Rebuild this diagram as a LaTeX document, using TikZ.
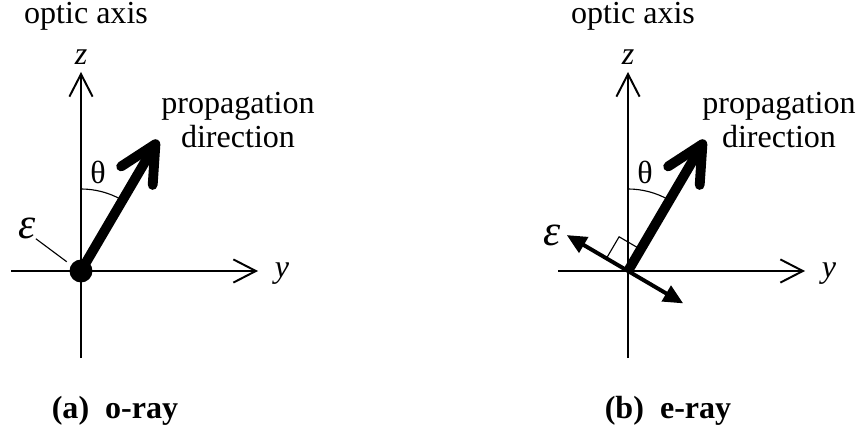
\documentclass[tikz,border=0pt]{standalone}
\usepackage{fontspec}
\setmainfont{Liberation Serif}
\usetikzlibrary{arrows.meta,positioning,calc}

\begin{document}
\begin{tikzpicture}[
  x=0.025cm, y=0.025cm,
  lbl/.style={font=\fontsize{22.8}{24.2}\selectfont, inner sep=0pt},
  field/.style={font=\fontsize{31}{31}\selectfont\itshape, inner sep=0pt},
  caption/.style={font=\fontsize{22.8}{24.2}\selectfont\bfseries, inner sep=0pt, anchor=base},
  axis/.style={line width=1.4pt, -{Straight Barb[length=16pt, width=16.5pt]}},
  beam/.style={line width=7pt, -{Straight Barb[length=26pt, width=26pt, round]}},
  pol/.style={line width=2.8pt, {Triangle[length=14pt, width=12.5pt]}-{Triangle[length=14pt, width=12.5pt]}},
  leader/.style={line width=0.8pt}
]
\useasboundingbox (0,0) rectangle (865,-425);

% Both panels: axes, beam, angle
\foreach \p/\sx/\px/\cx/\cap in {a/0/238/115/{(a)\ \ o-ray}, b/547/779/668/{(b)\ \ e-ray}} {
  \begin{scope}[shift={(\sx,0)}]
    \coordinate (O\p) at (81,-271);
    \coordinate (zbot\p) at (81,-358);
    \coordinate (ztop\p) at (81,-72);
    \coordinate (yleft\p) at (11,-271);
    \coordinate (yright\p) at (258,-271);
    \coordinate (tip\p) at ($(O\p)+(59.6:152)$);
    \draw[axis] (zbot\p) -- (ztop\p);
    \draw[axis] (yleft\p) -- (yright\p);
    \node[lbl] (z\p) at (81,-57) {\textit{z}};
    \node[lbl] (y\p) at (282,-274) {\textit{y}};
    \node[lbl, anchor=base] (optic\p) at (86,-24) {optic axis};
    \draw[beam] (O\p) -- (tip\p);
    \draw[leader] ($(O\p)+(0,82)$) arc[start angle=90, end angle=61, radius=82];
    \node[lbl] (theta\p) at (98,-172) {θ};
  \end{scope}
  \node[lbl, align=center] (prop\p) at (\px,-120) {propagation\\direction};
  \node[caption] (cap\p) at (\cx,-418) {\cap};
}

% (a) field along x: dot at the origin
\fill (Oa) circle (11.5);
\node[field] (epsa) at (27,-228) {ε};
\draw[leader] (epsa.south east) -- ($(Oa)+(147:17)$);

% (b) field in the y-z plane, normal to the beam
\coordinate (eup) at ($(Ob)+(149.6:71)$);
\coordinate (edown) at ($(Ob)+(-30.4:64)$);
\draw[pol] (eup) -- (edown);
\draw[leader] ($(Ob)+(149.6:25)$) -- ++(59.6:25) -- ($(Ob)+(59.6:25)$);
\node[field] (epsb) at (552,-235) {ε};

\end{tikzpicture}
\end{document}
